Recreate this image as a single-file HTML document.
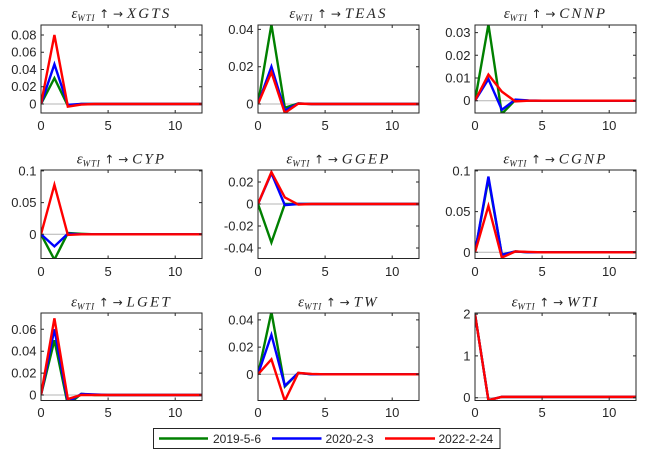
<!DOCTYPE html>
<html><head><meta charset="utf-8"><style>
html,body{margin:0;padding:0;background:#fff;}
svg{display:block;}
.tl{font-family:"Liberation Sans",Arial,sans-serif;font-size:13px;fill:#262626;}
.ttl{font-family:"Liberation Serif","DejaVu Serif",serif;fill:#262626;}
.ar{font-family:"DejaVu Sans",sans-serif;font-style:normal;font-size:12px;}
.s{fill:none;stroke-width:2.4;vector-effect:non-scaling-stroke;stroke-linejoin:miter;}
.z{stroke:#b4b4b4;stroke-width:1;vector-effect:non-scaling-stroke;}
.box{fill:none;stroke:#262626;stroke-width:1;}
.tk{stroke:#262626;stroke-width:1;}
</style></head><body>
<svg width="649" height="455" viewBox="0 0 649 455" xmlns="http://www.w3.org/2000/svg">
<defs>
<clipPath id="c1"><rect x="41" y="25" width="161" height="88"/></clipPath>
<clipPath id="c2"><rect x="258" y="25" width="161" height="88"/></clipPath>
<clipPath id="c3"><rect x="475" y="25" width="161" height="88"/></clipPath>
<clipPath id="c4"><rect x="41" y="170" width="161" height="88.5"/></clipPath>
<clipPath id="c5"><rect x="258" y="170" width="161" height="88.5"/></clipPath>
<clipPath id="c6"><rect x="475" y="170" width="161" height="88.5"/></clipPath>
<clipPath id="c7"><rect x="41" y="313" width="161" height="87.5"/></clipPath>
<clipPath id="c8"><rect x="258" y="313" width="161" height="87.5"/></clipPath>
<clipPath id="c9"><rect x="475" y="313" width="161" height="87.5"/></clipPath>
</defs>
<rect width="649" height="455" fill="#fff"/>

<!-- Panel 1 XGTS -->
<g clip-path="url(#c1)"><g transform="translate(41,104) scale(13.4167,-862.7)">
<line class="z" x1="0" y1="0" x2="12" y2="0"/>
<polyline class="s" stroke="#008000" points="0,0 1,0.030 2,-0.002 3,0 12,0"/>
<polyline class="s" stroke="#0000ff" points="0,0 1,0.046 2,-0.001 3,0 12,0"/>
<polyline class="s" stroke="#ff0000" points="0,0 1,0.080 2,-0.003 3,-0.0006 4,0 12,0"/>
</g></g>
<rect class="box" x="41" y="25" width="161" height="88"/>
<path class="tk" d="M108.1,113v-3M175.2,113v-3M108.1,25v3M175.2,25v3M41,86.75h3M41,69.5h3M41,52.2h3M41,35h3M41,104h3M202,86.75h-3M202,69.5h-3M202,52.2h-3M202,35h-3M202,104h-3"/>
<g class="tl" text-anchor="end"><text x="36.5" y="108.5">0</text><text x="36.5" y="91.2">0.02</text><text x="36.5" y="74">0.04</text><text x="36.5" y="56.7">0.06</text><text x="36.5" y="39.5">0.08</text></g>
<g class="tl" text-anchor="middle"><text x="41" y="130">0</text><text x="108.1" y="130">5</text><text x="175.2" y="130">10</text></g>
<text class="ttl" x="121.5" y="18" text-anchor="middle"><tspan font-style="italic" font-size="15">ε</tspan><tspan font-style="italic" font-size="9" dy="3" letter-spacing="0.8">WTI</tspan><tspan dy="-3" class="ar"> ↑ → </tspan><tspan font-style="italic" font-size="15" letter-spacing="2.2"> XGTS</tspan></text>

<!-- Panel 2 TEAS -->
<g clip-path="url(#c2)"><g transform="translate(258,104) scale(13.4167,-1865)">
<line class="z" x1="0" y1="0" x2="12" y2="0"/>
<polyline class="s" stroke="#008000" points="0,0 1,0.0426 2,-0.002 3,0.0003 4,0 12,0"/>
<polyline class="s" stroke="#0000ff" points="0,0 1,0.020 2,-0.0035 3,0.0003 4,0 12,0"/>
<polyline class="s" stroke="#ff0000" points="0,0 1,0.017 2,-0.0048 3,0.0002 4,0 12,0"/>
</g></g>
<rect class="box" x="258" y="25" width="161" height="88"/>
<path class="tk" d="M325.1,113v-3M392.2,113v-3M325.1,25v3M392.2,25v3M258,104h3M258,66.7h3M258,29.4h3M419,104h-3M419,66.7h-3M419,29.4h-3"/>
<g class="tl" text-anchor="end"><text x="253.5" y="108.5">0</text><text x="253.5" y="71.2">0.02</text><text x="253.5" y="33.9">0.04</text></g>
<g class="tl" text-anchor="middle"><text x="258" y="130">0</text><text x="325.1" y="130">5</text><text x="392.2" y="130">10</text></g>
<text class="ttl" x="338.5" y="18" text-anchor="middle"><tspan font-style="italic" font-size="15">ε</tspan><tspan font-style="italic" font-size="9" dy="3" letter-spacing="0.8">WTI</tspan><tspan dy="-3" class="ar"> ↑ → </tspan><tspan font-style="italic" font-size="15" letter-spacing="2.2"> TEAS</tspan></text>

<!-- Panel 3 CNNP -->
<g clip-path="url(#c3)"><g transform="translate(475,100.7) scale(13.4167,-2270)">
<line class="z" x1="0" y1="0" x2="12" y2="0"/>
<polyline class="s" stroke="#008000" points="0,0 1,0.0336 2,-0.0058 3,0.0003 4,0 12,0"/>
<polyline class="s" stroke="#0000ff" points="0,0 1,0.0095 2,-0.004 3,0.0005 4,0.0001 5,0 12,0"/>
<polyline class="s" stroke="#ff0000" points="0,0 1,0.0115 2,0.004 3,-0.0003 4,0 12,0"/>
</g></g>
<rect class="box" x="475" y="25" width="161" height="88"/>
<path class="tk" d="M542.1,113v-3M609.2,113v-3M542.1,25v3M609.2,25v3M475,100.7h3M475,78h3M475,55.3h3M475,32.6h3M636,100.7h-3M636,78h-3M636,55.3h-3M636,32.6h-3"/>
<g class="tl" text-anchor="end"><text x="470.5" y="105.2">0</text><text x="470.5" y="82.5">0.01</text><text x="470.5" y="59.8">0.02</text><text x="470.5" y="37.1">0.03</text></g>
<g class="tl" text-anchor="middle"><text x="475" y="130">0</text><text x="542.1" y="130">5</text><text x="609.2" y="130">10</text></g>
<text class="ttl" x="555.5" y="18" text-anchor="middle"><tspan font-style="italic" font-size="15">ε</tspan><tspan font-style="italic" font-size="9" dy="3" letter-spacing="0.8">WTI</tspan><tspan dy="-3" class="ar"> ↑ → </tspan><tspan font-style="italic" font-size="15" letter-spacing="2.2"> CNNP</tspan></text>

<!-- Panel 4 CYP -->
<g clip-path="url(#c4)"><g transform="translate(41,234.3) scale(13.4167,-634)">
<line class="z" x1="0" y1="0" x2="12" y2="0"/>
<polyline class="s" stroke="#008000" points="0,0 1,-0.040 2,0.002 3,0.0008 4,0 12,0"/>
<polyline class="s" stroke="#0000ff" points="0,0 1,-0.019 2,0.001 3,0 12,0"/>
<polyline class="s" stroke="#ff0000" points="0,0 1,0.078 2,-0.001 3,0 12,0"/>
</g></g>
<rect class="box" x="41" y="170" width="161" height="88.5"/>
<path class="tk" d="M108.1,258.5v-3M175.2,258.5v-3M108.1,170v3M175.2,170v3M41,234.3h3M41,202.6h3M41,170.9h3M202,234.3h-3M202,202.6h-3M202,170.9h-3"/>
<g class="tl" text-anchor="end"><text x="36.5" y="238.8">0</text><text x="36.5" y="207.1">0.05</text><text x="36.5" y="175.4">0.1</text></g>
<g class="tl" text-anchor="middle"><text x="41" y="276">0</text><text x="108.1" y="276">5</text><text x="175.2" y="276">10</text></g>
<text class="ttl" x="121.5" y="163.5" text-anchor="middle"><tspan font-style="italic" font-size="15">ε</tspan><tspan font-style="italic" font-size="9" dy="3" letter-spacing="0.8">WTI</tspan><tspan dy="-3" class="ar"> ↑ → </tspan><tspan font-style="italic" font-size="15" letter-spacing="2.2"> CYP</tspan></text>

<!-- Panel 5 GGEP -->
<g clip-path="url(#c5)"><g transform="translate(258,204) scale(13.4167,-1100)">
<line class="z" x1="0" y1="0" x2="12" y2="0"/>
<polyline class="s" stroke="#008000" points="0,0 1,-0.035 2,0.0 3,0 12,0"/>
<polyline class="s" stroke="#0000ff" points="0,0 1,0.028 2,-0.001 3,0 12,0"/>
<polyline class="s" stroke="#ff0000" points="0,0 1,0.029 2,0.006 3,-0.0005 4,0 12,0"/>
</g></g>
<rect class="box" x="258" y="170" width="161" height="88.5"/>
<path class="tk" d="M325.1,258.5v-3M392.2,258.5v-3M325.1,170v3M392.2,170v3M258,182h3M258,204h3M258,226h3M258,248h3M419,182h-3M419,204h-3M419,226h-3M419,248h-3"/>
<g class="tl" text-anchor="end"><text x="253.5" y="186.5">0.02</text><text x="253.5" y="208.5">0</text><text x="253.5" y="230.5">-0.02</text><text x="253.5" y="252.5">-0.04</text></g>
<g class="tl" text-anchor="middle"><text x="258" y="276">0</text><text x="325.1" y="276">5</text><text x="392.2" y="276">10</text></g>
<text class="ttl" x="338.5" y="163.5" text-anchor="middle"><tspan font-style="italic" font-size="15">ε</tspan><tspan font-style="italic" font-size="9" dy="3" letter-spacing="0.8">WTI</tspan><tspan dy="-3" class="ar"> ↑ → </tspan><tspan font-style="italic" font-size="15" letter-spacing="2.2"> GGEP</tspan></text>

<!-- Panel 6 CGNP -->
<g clip-path="url(#c6)"><g transform="translate(475,252.3) scale(13.4167,-814)">
<line class="z" x1="0" y1="0" x2="12" y2="0"/>
<polyline class="s" stroke="#008000" points="0,0 1,0.090 2,-0.003 3,0.001 4,0 12,0"/>
<polyline class="s" stroke="#0000ff" points="0,0 1,0.093 2,-0.003 3,0.001 4,0 12,0"/>
<polyline class="s" stroke="#ff0000" points="0,0 1,0.057 2,-0.0065 3,0.001 4,0.0004 5,0 12,0"/>
</g></g>
<rect class="box" x="475" y="170" width="161" height="88.5"/>
<path class="tk" d="M542.1,258.5v-3M609.2,258.5v-3M542.1,170v3M609.2,170v3M475,252.3h3M475,211.6h3M475,170.9h3M636,252.3h-3M636,211.6h-3M636,170.9h-3"/>
<g class="tl" text-anchor="end"><text x="470.5" y="256.8">0</text><text x="470.5" y="216.1">0.05</text><text x="470.5" y="175.4">0.1</text></g>
<g class="tl" text-anchor="middle"><text x="475" y="276">0</text><text x="542.1" y="276">5</text><text x="609.2" y="276">10</text></g>
<text class="ttl" x="555.5" y="163.5" text-anchor="middle"><tspan font-style="italic" font-size="15">ε</tspan><tspan font-style="italic" font-size="9" dy="3" letter-spacing="0.8">WTI</tspan><tspan dy="-3" class="ar"> ↑ → </tspan><tspan font-style="italic" font-size="15" letter-spacing="2.2"> CGNP</tspan></text>

<!-- Panel 7 LGET -->
<g clip-path="url(#c7)"><g transform="translate(41,395) scale(13.4167,-1095)">
<line class="z" x1="0" y1="0" x2="12" y2="0"/>
<polyline class="s" stroke="#008000" points="0,0 1,0.050 2,-0.009 3,0.001 4,0 12,0"/>
<polyline class="s" stroke="#0000ff" points="0,0 1,0.060 2,-0.0065 3,0.001 4,0.0005 5,0 12,0"/>
<polyline class="s" stroke="#ff0000" points="0,0 1,0.070 2,-0.0037 3,0 12,0"/>
</g></g>
<rect class="box" x="41" y="313" width="161" height="87.5"/>
<path class="tk" d="M108.1,400.5v-3M175.2,400.5v-3M108.1,313v3M175.2,313v3M41,395h3M41,373.1h3M41,351.2h3M41,329.3h3M202,395h-3M202,373.1h-3M202,351.2h-3M202,329.3h-3"/>
<g class="tl" text-anchor="end"><text x="36.5" y="399.5">0</text><text x="36.5" y="377.6">0.02</text><text x="36.5" y="355.7">0.04</text><text x="36.5" y="333.8">0.06</text></g>
<g class="tl" text-anchor="middle"><text x="41" y="417">0</text><text x="108.1" y="417">5</text><text x="175.2" y="417">10</text></g>
<text class="ttl" x="121.5" y="306.5" text-anchor="middle"><tspan font-style="italic" font-size="15">ε</tspan><tspan font-style="italic" font-size="9" dy="3" letter-spacing="0.8">WTI</tspan><tspan dy="-3" class="ar"> ↑ → </tspan><tspan font-style="italic" font-size="15" letter-spacing="2.2"> LGET</tspan></text>

<!-- Panel 8 TW -->
<g clip-path="url(#c8)"><g transform="translate(258,374.3) scale(13.4167,-1360)">
<line class="z" x1="0" y1="0" x2="12" y2="0"/>
<polyline class="s" stroke="#008000" points="0,0 1,0.0458 2,-0.009 3,0.001 4,0 12,0"/>
<polyline class="s" stroke="#0000ff" points="0,0 1,0.029 2,-0.0084 3,0.001 4,0 12,0"/>
<polyline class="s" stroke="#ff0000" points="0,0 1,0.011 2,-0.0195 3,0.001 4,0.0003 5,0 12,0"/>
</g></g>
<rect class="box" x="258" y="313" width="161" height="87.5"/>
<path class="tk" d="M325.1,400.5v-3M392.2,400.5v-3M325.1,313v3M392.2,313v3M258,374.3h3M258,347.1h3M258,319.9h3M419,374.3h-3M419,347.1h-3M419,319.9h-3"/>
<g class="tl" text-anchor="end"><text x="253.5" y="378.8">0</text><text x="253.5" y="351.6">0.02</text><text x="253.5" y="324.4">0.04</text></g>
<g class="tl" text-anchor="middle"><text x="258" y="417">0</text><text x="325.1" y="417">5</text><text x="392.2" y="417">10</text></g>
<text class="ttl" x="338.5" y="306.5" text-anchor="middle"><tspan font-style="italic" font-size="15">ε</tspan><tspan font-style="italic" font-size="9" dy="3" letter-spacing="0.8">WTI</tspan><tspan dy="-3" class="ar"> ↑ → </tspan><tspan font-style="italic" font-size="15" letter-spacing="2.2"> TW</tspan></text>

<!-- Panel 9 WTI -->
<g clip-path="url(#c9)"><g transform="translate(475,397.7) scale(13.4167,-41.8)">
<line class="z" x1="0" y1="0" x2="12" y2="0"/>
<polyline class="s" stroke="#008000" points="0,2 1,-0.06 2,0.02 3,0.02 12,0.02"/>
<polyline class="s" stroke="#0000ff" points="0,2 1,-0.06 2,0.02 3,0.02 12,0.02"/>
<polyline class="s" stroke="#ff0000" points="0,2 1,-0.06 2,0.02 3,0.02 12,0.02"/>
</g></g>
<rect class="box" x="475" y="313" width="161" height="87.5"/>
<path class="tk" d="M542.1,400.5v-3M609.2,400.5v-3M542.1,313v3M609.2,313v3M475,397.7h3M475,355.9h3M475,314.1h3M636,397.7h-3M636,355.9h-3M636,314.1h-3"/>
<g class="tl" text-anchor="end"><text x="470.5" y="402.2">0</text><text x="470.5" y="360.4">1</text><text x="470.5" y="318.6">2</text></g>
<g class="tl" text-anchor="middle"><text x="475" y="417">0</text><text x="542.1" y="417">5</text><text x="609.2" y="417">10</text></g>
<text class="ttl" x="555.5" y="306.5" text-anchor="middle"><tspan font-style="italic" font-size="15">ε</tspan><tspan font-style="italic" font-size="9" dy="3" letter-spacing="0.8">WTI</tspan><tspan dy="-3" class="ar"> ↑ → </tspan><tspan font-style="italic" font-size="15" letter-spacing="2.2"> WTI</tspan></text>

<!-- Legend -->
<rect x="153.5" y="428.5" width="346.5" height="20" fill="#fff" stroke="#262626" stroke-width="1"/>
<line x1="159" y1="438.5" x2="208" y2="438.5" stroke="#008000" stroke-width="2.4"/>
<line x1="272" y1="438.5" x2="321.5" y2="438.5" stroke="#0000ff" stroke-width="2.4"/>
<line x1="385" y1="438.5" x2="435" y2="438.5" stroke="#ff0000" stroke-width="2.4"/>
<g font-family="Liberation Sans, Arial, sans-serif" font-size="12" fill="#262626">
<text x="213" y="443">2019-5-6</text>
<text x="325.5" y="443">2020-2-3</text>
<text x="438.5" y="443">2022-2-24</text>
</g>
</svg>
</body></html>
